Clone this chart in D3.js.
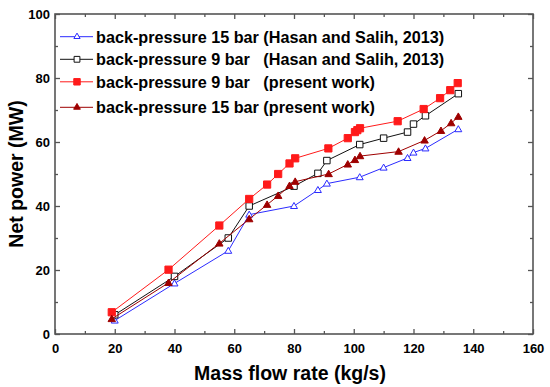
<!DOCTYPE html>
<html>
<head>
<meta charset="utf-8">
<script src="https://cdn.jsdelivr.net/npm/d3@7"></script>
<style>
	body { margin: 0; background: #fff; }
	text { font-family: Arial, 'Liberation Sans', sans-serif; font-weight: bold; }
</style>
</head>
<body>
<div id="chart"></div>
<script>
// values
const hasan15X = [20, 40, 58, 65, 80, 88, 91, 102, 110, 118, 120, 124, 135];
const hasan15Y = [4.2, 15.8, 26, 37.3, 40, 45, 47, 49, 52, 55, 56.7, 58, 64];

const hasan9X = [20, 40, 58, 65, 80, 88, 91, 102, 110, 118, 120, 124, 135];
const hasan9Y = [6, 18, 30, 40, 46.2, 50.2, 54.2, 59.2, 61.2, 63.1, 65.6, 68.2, 75.1];

const present9X = [19, 38, 55, 65, 71, 74.7, 78.5, 80.4, 91.5, 98, 100.4, 101.2, 102.1, 114.7, 123.4, 128.9, 132.3, 134.8];
const present9Y = [6.8, 20.1, 33.9, 42.2, 46.7, 50, 53.3, 54.9, 58, 61.2, 63.1, 63.7, 64.3, 66.5, 70.3, 73.7, 76.2, 78.4];

const present15X = [19, 38, 55, 65, 71, 74.7, 78.5, 80.4, 91.6, 98, 100.4, 102.1, 115, 123.7, 129.2, 132.6, 135];
const present15Y = [4.7, 16, 28.3, 35.9, 40.4, 43.2, 46.3, 47.6, 50, 53, 54.4, 55.6, 57, 60.5, 63.5, 65.9, 67.9];

const seriesNames = [
	'back-pressure 15 bar (Hasan and Salih, 2013)',
	'back-pressure 9 bar   (Hasan and Salih, 2013)',
	'back-pressure 9 bar   (present work)',
	'back-pressure 15 bar (present work)'
];

const xMajor = d3.range(0, 161, 20);
const xMinor = d3.range(10, 160, 20);
const yMajor = d3.range(0, 101, 20);
const yMinor = d3.range(10, 100, 20);

const w = 550;
const h = 387;
const margin = { left: 55, right: 17, top: 14, bottom: 53 };

const svg = d3
	.select('#chart')
	.append('svg')
	.attr('width', w)
	.attr('height', h);

const x = d3.scaleLinear().domain([0, 160]).range([margin.left, w - margin.right]);
const y = d3.scaleLinear().domain([0, 100]).range([h - margin.bottom, margin.top]);

const axisColor = '#555';

// ticks point inward on all four sides
function styleAxis(g) {
	g.select('.domain').remove();
	g.selectAll('.tick line').attr('stroke', axisColor).attr('stroke-width', 1.3);
	g.selectAll('.tick text')
		.attr('fill', '#000')
		.style('font-size', '13px')
		.style('font-family', "Arial, 'Liberation Sans', sans-serif")
		.style('font-weight', 'bold');
}

svg.append('g')
	.attr('transform', `translate(0,${y(0)})`)
	.call(d3.axisBottom(x).tickValues(xMajor).tickSizeInner(-5).tickSizeOuter(0).tickPadding(10))
	.call(styleAxis);
svg.append('g')
	.attr('transform', `translate(0,${y(0)})`)
	.call(d3.axisBottom(x).tickValues(xMinor).tickSizeInner(-3).tickSizeOuter(0).tickFormat(''))
	.call(styleAxis);
svg.append('g')
	.attr('transform', `translate(0,${y(100)})`)
	.call(d3.axisTop(x).tickValues(xMajor).tickSizeInner(-5).tickSizeOuter(0).tickFormat(''))
	.call(styleAxis);
svg.append('g')
	.attr('transform', `translate(0,${y(100)})`)
	.call(d3.axisTop(x).tickValues(xMinor).tickSizeInner(-3).tickSizeOuter(0).tickFormat(''))
	.call(styleAxis);

svg.append('g')
	.attr('transform', `translate(${x(0)},0)`)
	.call(d3.axisLeft(y).tickValues(yMajor).tickSizeInner(-5).tickSizeOuter(0).tickPadding(5))
	.call(styleAxis);
svg.append('g')
	.attr('transform', `translate(${x(0)},0)`)
	.call(d3.axisLeft(y).tickValues(yMinor).tickSizeInner(-3).tickSizeOuter(0).tickFormat(''))
	.call(styleAxis);
svg.append('g')
	.attr('transform', `translate(${x(160)},0)`)
	.call(d3.axisRight(y).tickValues(yMajor).tickSizeInner(-5).tickSizeOuter(0).tickFormat(''))
	.call(styleAxis);
svg.append('g')
	.attr('transform', `translate(${x(160)},0)`)
	.call(d3.axisRight(y).tickValues(yMinor).tickSizeInner(-3).tickSizeOuter(0).tickFormat(''))
	.call(styleAxis);

svg.append('rect')
	.attr('x', x(0))
	.attr('y', y(100))
	.attr('width', x(160) - x(0))
	.attr('height', y(0) - y(100))
	.attr('fill', 'none')
	.attr('stroke', axisColor)
	.attr('stroke-width', 1.6);

// axis titles
svg.append('text')
	.attr('x', (x(0) + x(160)) / 2 - 4)
	.attr('y', 380)
	.attr('text-anchor', 'middle')
	.style('font-size', '19.5px')
	.text('Mass flow rate (kg/s)');

svg.append('text')
	.attr('transform', `translate(23,${(y(0) + y(100)) / 2}) rotate(-90)`)
	.attr('text-anchor', 'middle')
	.style('font-size', '19.5px')
	.text('Net power (MW)');

const series = [
	{ name: seriesNames[0], xs: hasan15X, ys: hasan15Y, color: '#2b2bff', marker: 'triangle', fill: '#fff', size: 21 },
	{ name: seriesNames[1], xs: hasan9X, ys: hasan9Y, color: '#111', marker: 'square', fill: '#fff', size: 42 },
	{ name: seriesNames[2], xs: present9X, ys: present9Y, color: '#ff1a1a', marker: 'square', fill: '#ff1a1a', size: 52 },
	{ name: seriesNames[3], xs: present15X, ys: present15Y, color: '#9e0000', marker: 'triangle', fill: '#9e0000', size: 24 }
];

const line = d3.line().x(d => x(d[0])).y(d => y(d[1]));

function symbolFor(s, scale) {
	return d3.symbol()
		.type(s.marker === 'square' ? d3.symbolSquare : d3.symbolTriangle)
		.size(s.size * scale);
}

series.forEach(s => {
	const pts = s.xs.map((v, i) => [v, s.ys[i]]);
	const g = svg.append('g');
	g.append('path')
		.datum(pts)
		.attr('d', line)
		.attr('fill', 'none')
		.attr('stroke', s.color)
		.attr('stroke-width', 1);
	g.selectAll('path.pt')
		.data(pts)
		.enter()
		.append('path')
		.attr('class', 'pt')
		.attr('d', symbolFor(s, 1))
		.attr('transform', d => `translate(${x(d[0])},${y(d[1]) + (s.marker === 'triangle' ? 0.5 : 0)})`)
		.attr('fill', s.fill)
		.attr('stroke', s.color)
		.attr('stroke-width', 1);
});

// legend
const legendY = [36.7, 59.3, 81.8, 107.3];
const legend = svg.append('g');
series.forEach((s, i) => {
	const ly = legendY[i];
	legend.append('line')
		.attr('x1', 60)
		.attr('x2', 93)
		.attr('y1', ly)
		.attr('y2', ly)
		.attr('stroke', s.color)
		.attr('stroke-width', 1);
	legend.append('path')
		.attr('d', symbolFor(s, 0.8))
		.attr('transform', `translate(77,${ly})`)
		.attr('fill', s.fill)
		.attr('stroke', s.color);
	legend.append('text')
		.attr('x', 96)
		.attr('y', ly + 5.8)
		.attr('xml:space', 'preserve')
		.style('white-space', 'pre')
		.style('font-size', '16.2px')
		.text(s.name);
});
</script>
</body>
</html>
